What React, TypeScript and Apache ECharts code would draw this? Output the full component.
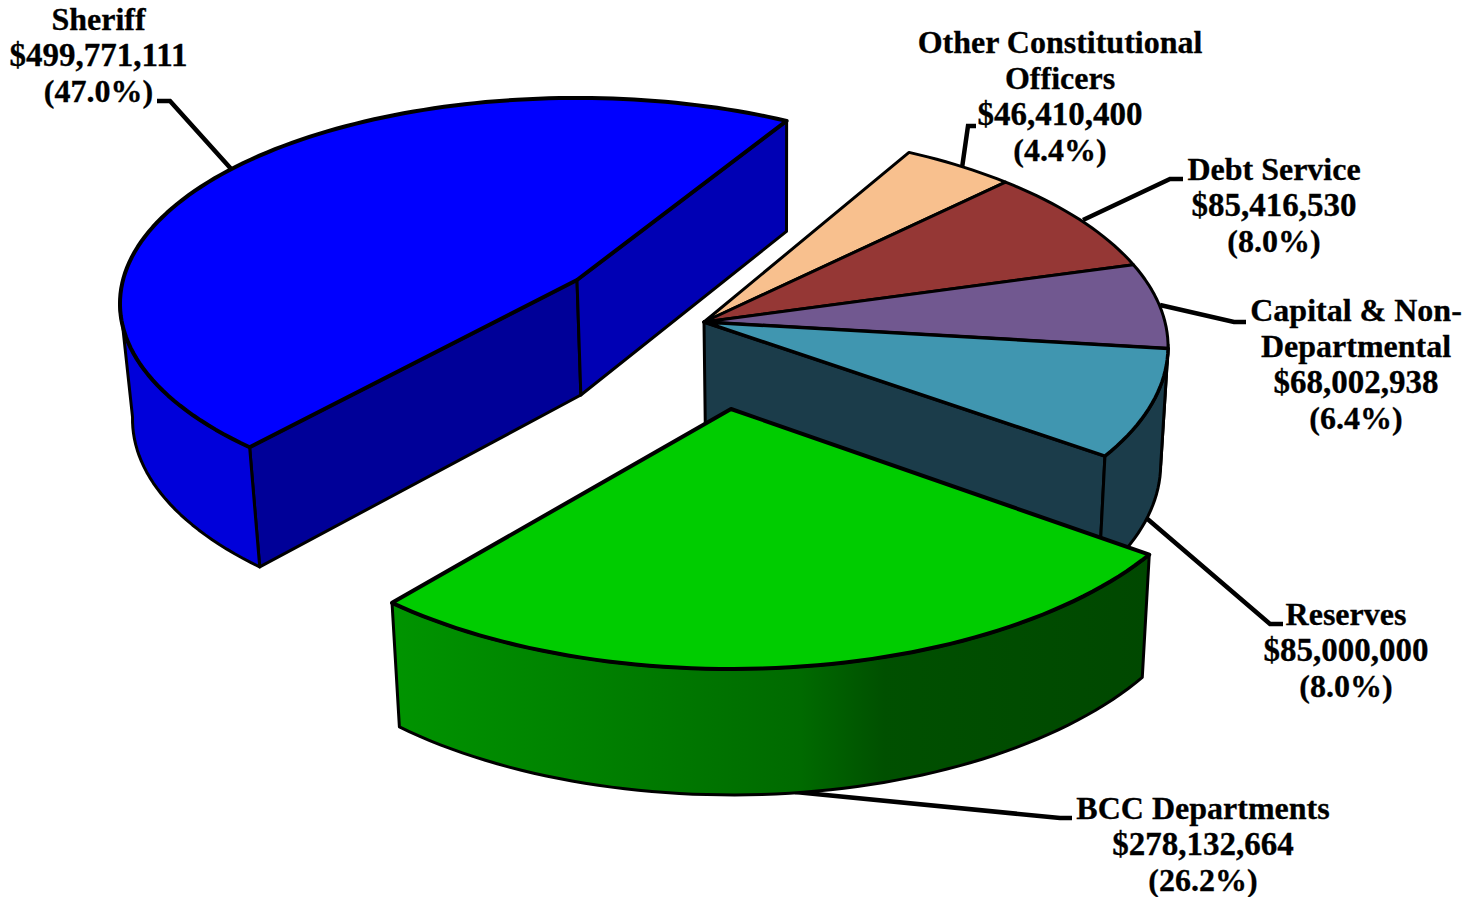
import React, { useEffect, useRef } from "react";
import * as echarts from "echarts";

// ---- data ----
const names = ["Sheriff", "Other Constitutional Officers", "Debt Service", "Capital & Non-Departmental", "Reserves", "BCC Departments"];
const amounts = [499771111, 46410400, 85416530, 68002938, 85000000, 278132664];
const nameLines = [["Sheriff"], ["Other Constitutional", "Officers"], ["Debt Service"], ["Capital & Non-", "Departmental"], ["Reserves"], ["BCC Departments"]];
const topColors = ["#0000FF", "#F8C08E", "#953735", "#715890", "#4096B0", "#00CC00"];
const arcSideColors = ["#0000DA", "#1B3C4A", "#1B3C4A", "#1B3C4A", "#1B3C4A", "bcc"];

// ---- layout of the exploded 3D pie ----
const START_DEG = 131;
const slicePerspective = [0.115, 0.115, 0.115, 0.115, 0.115, 0.1];
const sliceApex = [[577, 280], [704, 322], [704, 322], [704, 322], [704, 322], [731, 409]];
const sliceRadiusX = [454, 461, 461, 461, 461, 486];
const sliceRadiusY = [203, 214, 214, 214, 214, 234];
const sliceTurn = [0.2, -1, -1, -1, -1, -0.9];
const topStroke = [4, 3, 3, 3, 3.5, 4];
const startFaceColors = ["#000098", null, null, null, null, null];
const endFaceColors = ["#0000B4", null, null, null, "#1B3C4A", null];
const labelCentersX = [98.5, 1060, 1274, 1356, 1346, 1203];
const labelTopsY = [19, 42, 169, 310, 614, 808];
const LINE_STEP = 36;
const leaders = [
  [[157, 101], [170, 101], [233, 171]],
  [[962, 168], [968, 126], [976, 126]],
  [[1083, 220], [1170, 179], [1183, 179]],
  [[1160, 305], [1234, 322], [1246, 322]],
  [[1144, 516], [1270, 624], [1283, 624]],
  [[795, 792], [1060, 818], [1072, 818]],
];

const total = amounts.reduce((a, b) => a + b, 0);

function project(i: number, deg: number): number[] {
  const t = (deg * Math.PI) / 180;
  const v = Math.sin(t);
  const s = 1 / (1 - slicePerspective[i] * v);
  return [sliceApex[i][0] + sliceRadiusX[i] * Math.cos(t) * s, sliceApex[i][1] + sliceRadiusY[i] * v * s];
}
function lower(p: number[]): number[] {
  return [p[0] + (780 - p[0]) * 0.019, p[1] + 110 + 0.028 * (p[1] - 100)];
}
function arc(i: number, a: number, b: number): number[][] {
  const n = Math.max(2, Math.ceil(Math.abs(b - a) / 1.5));
  const out: number[][] = [];
  for (let k = 0; k <= n; k++) out.push(project(i, a + ((b - a) * k) / n));
  return out;
}

function renderSlice(params: any, api: any) {
  const i = params.dataIndex;
  const before = amounts.slice(0, i).reduce((a, b) => a + b, 0);
  const a0 = START_DEG + sliceTurn[i] + (before / total) * 360;
  const a1 = a0 + (api.value(0) / total) * 360;
  const apex = sliceApex[i];
  const children: any[] = [];
  const edge = { stroke: "#000", lineWidth: 3, lineJoin: "round" };

  const face = (deg: number, fill: string) => {
    const p = project(i, deg);
    children.push({
      type: "polygon",
      shape: { points: [apex, p, lower(p), lower(apex)] },
      style: { fill, ...edge },
    });
  };
  if (startFaceColors[i]) face(a0, startFaceColors[i] as string);
  if (endFaceColors[i]) face(a1, endFaceColors[i] as string);

  // curved outer wall, only the part turned to the viewer
  const norm = (d: number) => ((d % 360) + 360) % 360;
  const lo = norm(a0) > 270 ? norm(a0) - 360 : norm(a0);
  const hi = lo + (a1 - a0);
  const wallFrom = Math.max(lo, 6);
  const wallTo = Math.min(hi, 174);
  if (wallTo > wallFrom) {
    const top = arc(i, wallFrom, wallTo);
    const bottom = top.map(lower).reverse();
    const fill =
      arcSideColors[i] === "bcc"
        ? new echarts.graphic.LinearGradient(0, 0, 1, 0, [
            { offset: 0, color: "#009400" },
            { offset: 0.28, color: "#007F00" },
            { offset: 0.54, color: "#006A00" },
            { offset: 0.65, color: "#005000" },
            { offset: 1, color: "#004800" },
          ])
        : arcSideColors[i];
    children.push({ type: "polygon", shape: { points: [...top, ...bottom] }, style: { fill, ...edge } });
  }

  // top face
  children.push({
    type: "polygon",
    shape: { points: [apex, ...arc(i, a0, a1)] },
    style: { fill: topColors[i], stroke: "#000", lineWidth: topStroke[i], lineJoin: "round" },
  });
  return { type: "group", children };
}

function labelElements(): any[] {
  const out: any[] = [];
  names.forEach((_, i) => {
    const amount = "$" + amounts[i].toLocaleString("en-US");
    const lines = [...nameLines[i], amount, "(" + ((amounts[i] / total) * 100).toFixed(1) + "%)"];
    lines.forEach((t, k) => {
      out.push({
        type: "text",
        x: labelCentersX[i],
        y: labelTopsY[i] + k * LINE_STEP,
        style: {
          text: t,
          fill: "#000",
          stroke: "#000",
          lineWidth: 0.3,
          font: `bold ${t === amount ? 33 : 32}px "Liberation Serif"`,
          align: "center",
          verticalAlign: "middle",
        },
      });
    });
    out.push({
      type: "polyline",
      shape: { points: leaders[i] },
      style: { fill: "none", stroke: "#000", lineWidth: 4.5 },
    });
  });
  return out;
}

export default function App() {
  const ref = useRef<HTMLDivElement>(null);
  useEffect(() => {
    document.body.style.margin = "0";
    document.body.style.background = "#fff";
    const chart = echarts.init(ref.current as HTMLDivElement, undefined, { renderer: "svg" });
    chart.setOption({
      animation: false,
      backgroundColor: "#ffffff",
      tooltip: { show: false },
      graphic: { elements: labelElements() },
      series: [
        {
          type: "custom",
          coordinateSystem: "none",
          silent: true,
          clip: false,
          data: amounts.map((v, i) => ({ name: names[i], value: [v] })),
          renderItem: renderSlice,
        },
      ],
    });
    return () => chart.dispose();
  }, []);
  return <div ref={ref} style={{ width: 1477, height: 897 }} />;
}
